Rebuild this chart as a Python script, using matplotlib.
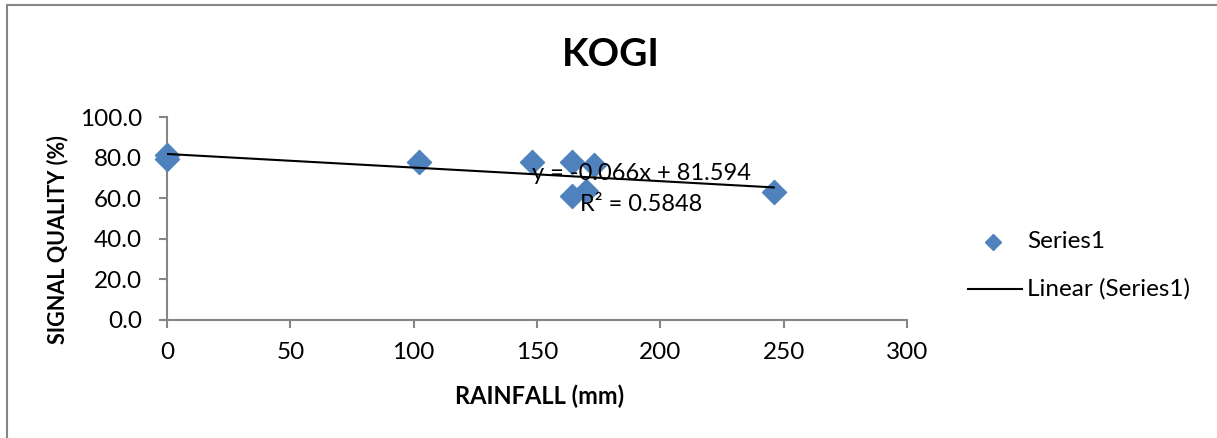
import matplotlib.pyplot as plt
import numpy as np
from matplotlib.patches import Rectangle
from matplotlib.lines import Line2D

plt.rcParams['font.family'] = ['Lato', 'DejaVu Sans']

# rainfall (mm) vs signal quality (%)
rainfall = [0, 0, 102, 148, 164, 173, 164, 170, 246]
signal_quality = [81.6, 79.5, 77.8, 77.8, 77.8, 76.5, 61.3, 63.6, 63.0]
x_ticks = [0, 50, 100, 150, 200, 250, 300]
y_ticks = [0, 20, 40, 60, 80, 100]
eq_text = "y = -0.066x + 81.594"
r2_text = "R² = 0.5848"

W, H = 1217, 438
fig = plt.figure(figsize=(W / 100, H / 100), dpi=100)
fig.patches.append(Rectangle((7 / W, -0.1), 1.2, 1 - 5 / H + 0.1, transform=fig.transFigure,
                             fill=False, edgecolor="#868686", linewidth=1.5))

ax = fig.add_axes([167 / W, 1 - 320 / H, (907 - 167) / W, (320 - 117.3) / H])
ax.set_xlim(0, 300)
ax.set_ylim(0, 100)
ax.set_xticks(x_ticks)
ax.set_yticks(y_ticks)
ax.set_yticklabels([f"{v:.1f}" for v in y_ticks])
for s in ("top", "right"):
    ax.spines[s].set_visible(False)
for s in ("left", "bottom"):
    ax.spines[s].set_color("#868686")
    ax.spines[s].set_linewidth(1.5)
ax.tick_params(colors="#868686", labelcolor="black", labelsize=17.5, length=6, width=1.5)
ax.tick_params(axis="x", pad=10)
ax.tick_params(axis="y", pad=12)

ax.scatter(rainfall, signal_quality, marker="D", s=150, color="#4F81BD", zorder=3, clip_on=False)
slope, icpt = np.polyfit(rainfall, signal_quality, 1)
xs = np.array([min(rainfall), max(rainfall)])
ax.plot(xs, slope * xs + icpt, color="black", linewidth=1.5, zorder=4)

ax.text(148, 72.5, eq_text, fontsize=17, va="center", ha="left", zorder=5)
ax.text(167.5, 57, r2_text, fontsize=17, va="center", ha="left", zorder=5)

fig.text(611 / W, 1 - 55 / H, "KOGI", fontsize=28, fontweight="bold", ha="center", va="center")
fig.text(540 / W, 1 - 396 / H, "RAINFALL (mm)", fontsize=17, fontweight="bold", ha="center", va="center")
fig.text(58 / W, 1 - 240 / H, "SIGNAL QUALITY (%)", fontsize=15.5, fontweight="bold",
         ha="center", va="center", rotation=90)

# legend drawn by hand like Excel's
fig.lines.append(Line2D([993 / W], [1 - 242 / H], marker="D", markersize=8, color="#4F81BD",
                        linestyle="none", transform=fig.transFigure))
fig.text(1027 / W, 1 - 242 / H, "Series1", fontsize=17.5, va="center", ha="left")
fig.lines.append(Line2D([968 / W, 1022 / W], [1 - 289 / H] * 2, color="black", linewidth=1.5,
                        transform=fig.transFigure))
fig.text(1027 / W, 1 - 289 / H, "Linear (Series1)", fontsize=17.5, va="center", ha="left")

fig.savefig("out.png", dpi=100)
